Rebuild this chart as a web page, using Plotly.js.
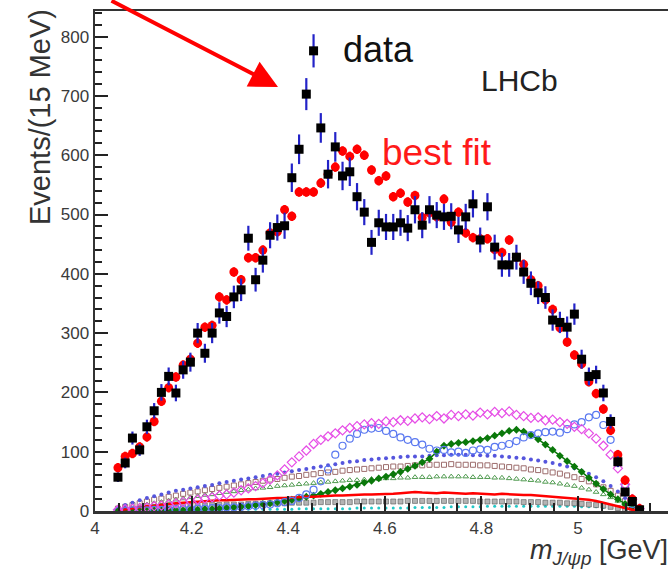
<!DOCTYPE html>
<html>
<head>
<meta charset="utf-8">
<script src="https://cdn.plot.ly/plotly-3.0.1.min.js"></script>
<style>
  html, body { margin: 0; padding: 0; background: #fff; overflow: hidden; }
  #chart { width: 700px; height: 570px; }
</style>
</head>
<body>
<div id="chart"></div>
<script>
// m(J/psi p) bin centres, 15 MeV bins
const massBins = [
  4.0475,4.0625,4.0775,4.0925,4.1075,4.1225,4.1375,4.1525,4.1675,4.1825,
  4.1975,4.2125,4.2275,4.2425,4.2575,4.2725,4.2875,4.3025,4.3175,4.3325,
  4.3475,4.3625,4.3775,4.3925,4.4075,4.4225,4.4375,4.4525,4.4675,4.4825,
  4.4975,4.5125,4.5275,4.5425,4.5575,4.5725,4.5875,4.6025,4.6175,4.6325,
  4.6475,4.6625,4.6775,4.6925,4.7075,4.7225,4.7375,4.7525,4.7675,4.7825,
  4.7975,4.8125,4.8275,4.8425,4.8575,4.8725,4.8875,4.9025,4.9175,4.9325,
  4.9475,4.9625,4.9775,4.9925,5.0075,5.0225,5.0375,5.0525,5.0675,5.0825,
  5.0975,5.1125,5.1275
];

// observed candidates per bin
const dataCounts = [
  57,81,123,103,142,169,200,227,199,238,
  251,300,266,300,334,328,361,373,460,390,
  423,465,478,481,562,610,703,776,646,568,
  614,565,572,530,504,453,486,479,479,486,
  477,508,482,508,499,496,497,474,496,518,
  457,513,445,415,415,428,403,384,368,360,
  322,318,310,332,256,227,230,199,151,83,
  32,16,2
];

// statistical uncertainty on each bin
const dataErrors = [
  8,9,11,10,12,13,14,15,14,15,
  16,17,16,17,18,18,19,19,21,20,
  21,22,22,22,24,25,27,28,25,24,
  25,24,24,23,22,21,22,22,22,22,
  22,23,22,23,22,22,22,22,22,23,
  21,23,21,20,20,21,20,20,19,19,
  18,18,18,18,16,15,15,14,12,9,
  6,4,1
];

// total fit projection
const bestFit = [
  73,92,97,108,125,151,185,208,226,246,
  256,283,310,313,361,356,403,390,427,427,
  440,469,471,508,497,538,538,538,553,568,
  580,607,598,610,600,575,557,565,530,536,
  521,532,495,503,496,526,487,504,469,461,
  459,459,441,436,457,428,416,390,380,356,
  340,309,285,263,248,218,198,172,136,95,
  52,20,4
];

// fit components
const compMagenta = [
  2,3,4,5,6,8,9,11,13,15,
  17,19,21,23,26,28,31,35,38,42,
  47,53,60,70,82,92,102,113,120,126,
  131,136,140,143,146,148,147,151,150,153,
  152,156,158,155,160,156,162,160,163,161,
  166,163,167,165,168,162,160,157,158,153,
  154,150,147,142,138,131,122,110,95,72,
  45,20,4
];
const compBlueOpen = [
  0,0,1,1,1,2,2,2,3,3,
  3,4,4,5,5,6,6,7,8,9,
  10,11,13,15,17,22,28,36,50,70,
  95,110,122,130,137,139,140,135,130,124,
  120,116,112,105,102,103,99,100,98,102,
  104,103,108,110,113,118,124,128,131,133,
  134,132,138,146,150,158,162,145,120,82,
  42,12,2
];
const compBlue = [
  6,10,14,18,22,25,28,31,34,36,
  38,40,42,44,47,49,51,53,55,57,
  59,61,63,65,67,69,71,73,75,77,
  79,81,83,84,86,87,88,89,90,91,
  92,92,92,93,94,94,95,95,95,94,
  94,93,93,92,91,90,89,87,85,83,
  81,78,75,72,68,63,57,50,42,33,
  22,11,3
];
const compBrown = [
  4,7,10,13,16,19,21,24,26,29,
  31,33,35,37,39,41,43,45,47,49,
  51,53,54,56,58,59,61,62,64,65,
  66,68,69,70,71,72,73,74,75,75,
  76,77,77,78,78,78,79,78,78,78,
  77,77,76,75,74,73,72,70,69,67,
  65,63,60,57,54,50,45,40,34,26,
  17,8,2
];
const compGreenOpen = [
  3,5,7,9,11,13,15,17,19,21,
  23,25,27,28,30,32,33,35,36,38,
  39,40,42,43,44,45,46,47,48,49,
  50,51,52,52,53,54,54,55,55,56,
  56,57,57,57,58,58,58,58,58,57,
  57,57,56,56,55,54,53,52,51,49,
  48,46,44,42,39,36,32,28,23,17,
  11,5,1
];
const compDarkGreen = [
  0,0,0,0,0,1,1,1,1,1,
  2,2,3,3,4,5,6,7,8,10,
  12,13,15,17,19,21,24,26,29,32,
  35,38,41,44,48,51,55,58,62,66,
  71,76,82,88,100,110,113,115,116,118,
  120,123,127,131,135,137,134,128,121,112,
  103,93,84,75,66,56,46,37,28,20,
  12,6,1
];
const compRed = [
  1,3,5,6,8,9,11,12,13,14,
  15,16,16,17,18,18,19,19,20,20,
  21,21,22,22,23,23,24,24,25,25,
  26,26,27,27,28,28,28,29,29,30,
  31,32,31,30,30,31,30,29,29,30,
  29,29,28,29,28,28,27,27,26,26,
  25,24,23,22,21,19,17,14,11,7,
  4,2,1
];
const compGray = [
  1,2,3,4,5,5,6,7,7,8,
  8,9,9,10,10,11,11,11,12,12,
  12,13,13,13,14,14,14,14,15,15,
  15,15,15,16,16,16,16,16,16,16,
  17,17,17,17,17,17,17,17,17,17,
  16,16,16,16,16,16,15,15,15,14,
  14,14,13,13,12,11,10,9,7,5,
  3,2,1
];
const compCyan = [
  0,0,0,0,1,1,1,1,1,1,
  1,1,2,2,2,2,2,2,3,3,
  3,3,3,3,3,4,4,4,4,4,
  4,4,4,5,5,5,5,5,5,5,
  5,6,6,6,6,6,7,7,7,7,
  7,8,8,8,8,8,8,8,8,8,
  8,8,8,8,7,7,7,6,6,5,
  3,2,1
];

const yTicks = [0,100,200,300,400,500,600,700,800];
const xTicks = [4,4.2,4.4,4.6,4.8,5];
const xTickText = ['4','4.2','4.4','4.6','4.8','5'];

// plot area geometry (pixels)
const L = 95, R = 28, T = 11, B = 59, W = 700, H = 570;
const plotW = W - L - R, plotH = H - T - B;
const px = v => (v - L) / plotW;          // page x -> paper x
const py = v => (H - B - v) / plotH;      // page y -> paper y

function comp(y, marker, extra) {
  return Object.assign({
    x: massBins, y: y, type: 'scatter', mode: 'markers',
    marker: marker, hoverinfo: 'skip', cliponaxis: true
  }, extra || {});
}

const traces = [
  comp(compCyan, {symbol: 'circle', size: 3, color: '#22c8c8'}),
  comp(compGray, {symbol: 'square', size: 5, color: '#b4b4b4', line: {color: '#555', width: 0.6}}),
  comp(compGreenOpen, {symbol: 'triangle-up-open', size: 5, color: '#4f9a4f', line: {width: 1}}),
  comp(compBrown, {symbol: 'square-open', size: 5, color: '#9c6c6c', line: {width: 1}}),
  comp(compBlue, {symbol: 'circle', size: 4, color: '#5555dd'}),
  comp(compDarkGreen, {symbol: 'diamond', size: 6, color: '#0a780a'},
       {mode: 'lines+markers', line: {color: '#0a780a', width: 1.5}}),
  comp(compRed, {size: 1}, {mode: 'lines', line: {color: '#ff0000', width: 2.5}}),
  comp(compBlueOpen, {symbol: 'circle-open', size: 7, color: '#5a78f0', line: {width: 1.2}}),
  comp(compMagenta, {symbol: 'diamond-open', size: 7, color: '#e64ee6', line: {width: 1.2}}),
  {
    x: massBins, y: bestFit, type: 'scatter', mode: 'markers', hoverinfo: 'skip',
    marker: {symbol: 'circle', size: 9, color: '#ff0000'},
    error_y: {type: 'constant', value: 8, color: '#ff0000', thickness: 2.5, width: 0}
  },
  {
    x: massBins, y: dataCounts, type: 'scatter', mode: 'markers', hoverinfo: 'skip',
    marker: {symbol: 'square', size: 9, color: '#000000'},
    error_y: {type: 'data', array: dataErrors, visible: true, color: '#2323c8', thickness: 2.2, width: 0}
  }
];

const tickFont = {family: 'Liberation Sans, Arial, sans-serif', size: 17, color: '#3a3a3a'};

const layout = {
  width: W, height: H,
  margin: {l: L, r: R, t: T, b: B, pad: 0},
  paper_bgcolor: '#fff', plot_bgcolor: '#fff',
  showlegend: false,
  xaxis: {
    range: [4, 4 + plotW / 483],
    tickvals: xTicks, ticktext: xTickText,
    ticks: 'inside', ticklen: 15, tickwidth: 2, tickcolor: '#222',
    minor: {ticks: 'inside', ticklen: 8, tickwidth: 2, tickcolor: '#222', dtick: 0.05, tick0: 4},
    showline: true, linecolor: '#333', linewidth: 2.5, mirror: true,
    showgrid: false, zeroline: false,
    tickfont: tickFont
  },
  yaxis: {
    range: [0, plotH / 0.593],
    tickvals: yTicks,
    ticks: 'inside', ticklen: 13, tickwidth: 2, tickcolor: '#222',
    minor: {ticks: 'inside', ticklen: 7, tickwidth: 2, tickcolor: '#222', dtick: 20, tick0: 0},
    showline: true, linecolor: '#333', linewidth: 2.5,
    showgrid: false, zeroline: false,
    tickfont: tickFont
  },
  annotations: [
    {
      xref: 'paper', yref: 'paper', x: px(40), y: py(117),
      text: 'Events/(15 MeV)', textangle: -90, showarrow: false,
      xanchor: 'center', yanchor: 'middle',
      font: {family: 'Liberation Sans, Arial, sans-serif', size: 29, color: '#333'}
    },
    {
      xref: 'paper', yref: 'paper', x: px(670), y: py(552),
      text: '<i>m</i><sub><i>J/\u03c8p</i></sub> [GeV]', showarrow: false,
      xanchor: 'right', yanchor: 'middle',
      font: {family: 'Liberation Sans, Arial, sans-serif', size: 27, color: '#333'}
    },
    {
      xref: 'paper', yref: 'paper', x: px(341), y: py(50),
      text: 'data', showarrow: false, xanchor: 'left', yanchor: 'middle',
      font: {family: 'Liberation Sans, Arial, sans-serif', size: 36, color: '#111'}
    },
    {
      xref: 'paper', yref: 'paper', x: px(380), y: py(152),
      text: 'best fit', showarrow: false, xanchor: 'left', yanchor: 'middle',
      font: {family: 'Liberation Sans, Arial, sans-serif', size: 37, color: '#ff1a1a'}
    },
    {
      xref: 'paper', yref: 'paper', x: px(479), y: py(80),
      text: 'LHCb', showarrow: false, xanchor: 'left', yanchor: 'middle',
      font: {family: 'Liberation Sans, Arial, sans-serif', size: 30, color: '#222'}
    },
    {
      xref: 'paper', yref: 'paper', x: px(278), y: py(87),
      text: '', showarrow: true, arrowhead: 2, arrowsize: 1.4, arrowwidth: 4,
      arrowcolor: '#ff0000', ax: 110 - 278, ay: -4 - 87, standoff: 0
    }
  ]
};

Plotly.newPlot('chart', traces, layout, {staticPlot: true, displayModeBar: false});
</script>
</body>
</html>
